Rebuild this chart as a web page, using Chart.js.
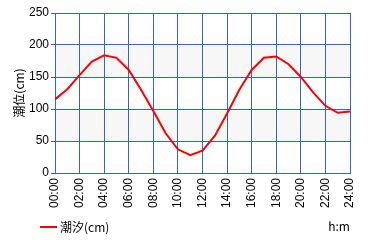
<!DOCTYPE html>
<html>
<head>
<meta charset="utf-8">
<script src="https://cdn.jsdelivr.net/npm/chart.js@4"></script>
<style>
  html, body { margin: 0; padding: 0; background: #fff; }
  #wrap { width: 380px; height: 240px; }
</style>
</head>
<body>
<div id="wrap"><canvas id="tideChart" width="380" height="240"></canvas></div>
<script>
// 時刻 (h) と潮位 (cm)
var hours = [0, 1, 2, 3, 4, 5, 6, 7, 8, 9, 10, 11, 12, 13, 14, 15, 16, 17, 18, 19, 20, 21, 22, 23, 24];
var tide = [115, 131, 153, 174, 184, 180, 161, 130, 97, 62, 37, 28, 35, 58, 93, 130, 161, 180, 182, 170, 150, 126, 105, 94, 96];
var seriesLabel = '潮汐(cm)';
var yTitle = '潮位(cm)';
var xUnit = 'h:m';
var bands = [[50, 100], [150, 200]];

var gridBlue = '#3366cc';
var font = { family: 'Liberation Sans, DejaVu Sans, sans-serif', size: 12 };
var jpFont = '"Noto Sans CJK JP", sans-serif';

// グレーの帯と凡例・単位を描く
var bandPlugin = {
    id: 'bands',
    beforeDraw: function (chart) {
        var ctx = chart.ctx, a = chart.chartArea, y = chart.scales.y;
        ctx.save();
        ctx.fillStyle = '#f7f7f7';
        for (var i = 0; i < bands.length; i++) {
            var top = y.getPixelForValue(bands[i][1]);
            var bot = y.getPixelForValue(bands[i][0]);
            ctx.fillRect(a.left, top, a.right - a.left, bot - top);
        }
        ctx.restore();
    },
    afterDraw: function (chart) {
        var ctx = chart.ctx;
        var ds = chart.data.datasets[0];
        ctx.save();
        ctx.fillStyle = '#000';
        ctx.font = '12px ' + jpFont;
        ctx.textBaseline = 'middle';
        ctx.textAlign = 'left';
        ctx.fillText(ds.label, 60, 227);
        ctx.textAlign = 'center';
        ctx.fillText(xUnit, 339, 226);
        ctx.strokeStyle = ds.borderColor;
        ctx.lineWidth = 2;
        ctx.beginPath();
        ctx.moveTo(40, 227);
        ctx.lineTo(57, 227);
        ctx.stroke();
        ctx.restore();
    }
};

var data = [];
for (var i = 0; i < hours.length; i++) {
    data.push({ x: hours[i], y: tide[i] });
}

var ctx = document.getElementById('tideChart').getContext('2d');
var myChart = new Chart(ctx, {
    type: 'line',
    data: {
        datasets: [{
            label: seriesLabel,
            data: data,
            borderColor: '#ff0000',
            backgroundColor: '#ff0000',
            borderWidth: 2,
            pointRadius: 0,
            tension: 0,
            fill: false
        }]
    },
    options: {
        responsive: false,
        animation: false,
        layout: { padding: { top: 13, right: 30, left: 0, bottom: 22 } },
        plugins: {
            legend: { display: false },
            tooltip: { enabled: false }
        },
        scales: {
            x: {
                type: 'linear',
                min: 0,
                max: 24,
                grid: { color: gridBlue, lineWidth: 1, drawTicks: false },
                border: { color: gridBlue },
                ticks: {
                    stepSize: 2,
                    minRotation: 90,
                    maxRotation: 90,
                    padding: 5,
                    color: '#000',
                    font: font,
                    callback: function (v) {
                        return (v < 10 ? '0' : '') + v + ':00';
                    }
                },
                afterFit: function (s) { s.height = 45; }
            },
            y: {
                min: 0,
                max: 250,
                grid: { color: gridBlue, lineWidth: 1, tickLength: 4 },
                border: { color: gridBlue },
                ticks: { stepSize: 50, color: '#000', font: font, padding: 2 },
                title: {
                    display: true,
                    text: yTitle,
                    color: '#000',
                    font: { family: jpFont, size: 12 },
                    padding: { top: 12, bottom: 0 }
                },
                afterFit: function (s) { s.width = 55; }
            }
        }
    },
    plugins: [bandPlugin]
});
</script>
</body>
</html>
